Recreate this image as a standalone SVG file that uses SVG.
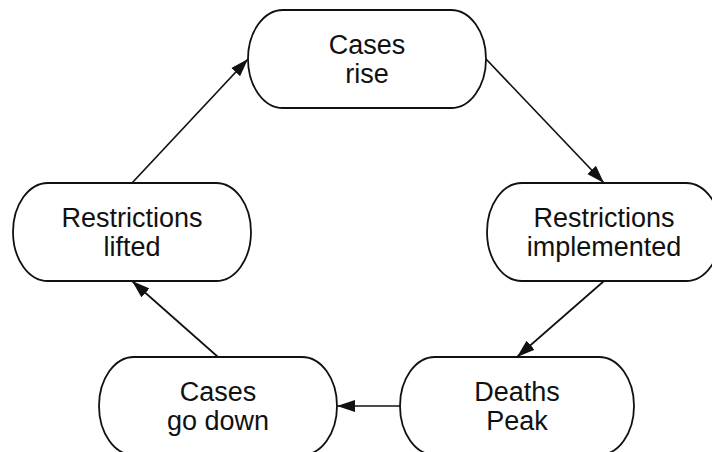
<svg xmlns="http://www.w3.org/2000/svg" width="712" height="452" viewBox="0 0 712 452">
  <style>
    .box { fill: #ffffff; stroke: #111111; stroke-width: 1.8; }
    .lbl { font-family: "Liberation Sans", Arial, Helvetica, sans-serif; font-size: 27px; fill: #111111; text-anchor: middle; }
    .edge { stroke: #111111; stroke-width: 1.7; fill: none; marker-end: url(#arrow); }
  </style>
  <defs>
    <marker id="arrow" markerUnits="userSpaceOnUse" markerWidth="19" markerHeight="13" refX="18" refY="6.5" orient="auto">
      <path d="M0,0.5 L18,6.5 L0,12.5 Z" fill="#111111"/>
    </marker>
  </defs>
  <rect x="0" y="0" width="712" height="452" fill="#ffffff"/>

  <g id="connectors">
    <line class="edge" x1="486" y1="59" x2="604" y2="183"/>
    <line class="edge" x1="604" y1="281" x2="517" y2="357"/>
    <line class="edge" x1="400" y1="406" x2="337" y2="406"/>
    <line class="edge" x1="218" y1="357" x2="132" y2="281"/>
    <line class="edge" x1="132" y1="183" x2="248" y2="59"/>
  </g>

  <g id="cases-rise">
    <rect class="box" x="248" y="10" width="238" height="98" rx="35" ry="49"/>
    <text class="lbl" x="367" y="53.5">Cases</text>
    <text class="lbl" x="367" y="82.5">rise</text>
  </g>

  <g id="restrictions-implemented">
    <rect class="box" x="487" y="183" width="234" height="98" rx="35" ry="49"/>
    <text class="lbl" x="604" y="226.5">Restrictions</text>
    <text class="lbl" x="604" y="255.5">implemented</text>
  </g>

  <g id="deaths-peak">
    <rect class="box" x="400" y="357" width="234" height="98" rx="35" ry="49"/>
    <text class="lbl" x="517" y="400.5">Deaths</text>
    <text class="lbl" x="517" y="429.5">Peak</text>
  </g>

  <g id="cases-go-down">
    <rect class="box" x="99" y="357" width="238" height="98" rx="35" ry="49"/>
    <text class="lbl" x="218" y="400.5">Cases</text>
    <text class="lbl" x="218" y="429.5">go down</text>
  </g>

  <g id="restrictions-lifted">
    <rect class="box" x="13" y="183" width="238" height="98" rx="35" ry="49"/>
    <text class="lbl" x="132" y="226.5">Restrictions</text>
    <text class="lbl" x="132" y="255.5">lifted</text>
  </g>
</svg>
